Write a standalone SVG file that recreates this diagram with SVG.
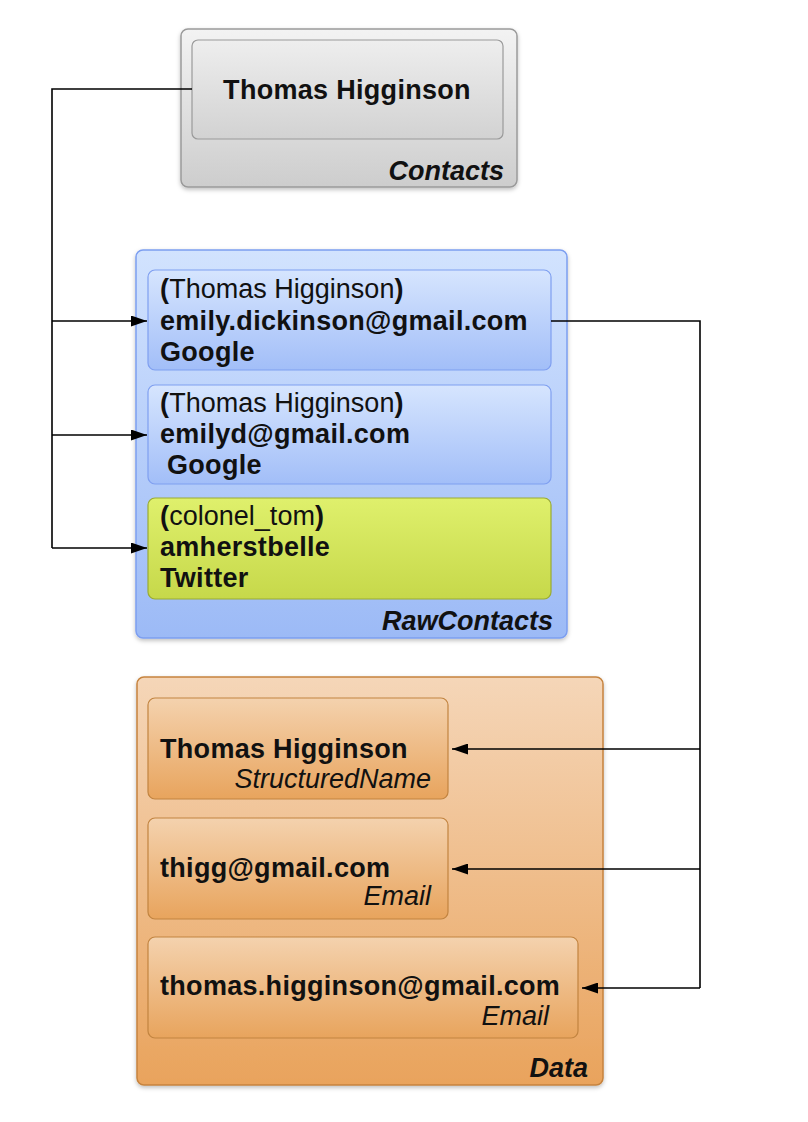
<svg xmlns="http://www.w3.org/2000/svg" width="808" height="1122" viewBox="0 0 808 1122">
<style>
text{font-family:"Liberation Sans",Arial,sans-serif;font-size:27px;fill:#111}
.b{font-weight:bold;letter-spacing:0.3px}
.bi{font-weight:bold;font-style:italic}
.i{font-style:italic}
.r{text-anchor:end}
.conn{fill:none;stroke:#000;stroke-width:1.6}
</style>
<defs>
<linearGradient id="gGrayO" x1="0" y1="0" x2="0" y2="1"><stop offset="0" stop-color="#f3f3f3"/><stop offset="1" stop-color="#cdcdcd"/></linearGradient>
<linearGradient id="gGrayI" x1="0" y1="0" x2="0" y2="1"><stop offset="0" stop-color="#eeeeee"/><stop offset="1" stop-color="#d2d2d2"/></linearGradient>
<linearGradient id="gBlueO" x1="0" y1="0" x2="0" y2="1"><stop offset="0" stop-color="#d2e3fe"/><stop offset="1" stop-color="#9cbaf6"/></linearGradient>
<linearGradient id="gBlueI" x1="0" y1="0" x2="0" y2="1"><stop offset="0" stop-color="#d6e5fe"/><stop offset="1" stop-color="#a2bef8"/></linearGradient>
<linearGradient id="gGreen" x1="0" y1="0" x2="0" y2="1"><stop offset="0" stop-color="#dff06c"/><stop offset="1" stop-color="#c6d84a"/></linearGradient>
<linearGradient id="gOrO" x1="0" y1="0" x2="0" y2="1"><stop offset="0" stop-color="#f5d6b8"/><stop offset="1" stop-color="#e9a35c"/></linearGradient>
<linearGradient id="gOrI" x1="0" y1="0" x2="0" y2="1"><stop offset="0" stop-color="#f4d2ae"/><stop offset="1" stop-color="#e8a45d"/></linearGradient>
<filter id="sh" x="-5%" y="-5%" width="110%" height="110%"><feDropShadow dx="0" dy="2" stdDeviation="2" flood-color="#000" flood-opacity="0.25"/></filter>
<marker id="ah" viewBox="0 0 16 11" refX="16" refY="5.5" markerWidth="16" markerHeight="11" markerUnits="userSpaceOnUse" orient="auto"><path d="M0,0 L16,5.5 L0,11 Z" fill="#000"/></marker>
</defs>

<g id="contacts">
<rect x="181" y="29" width="336" height="158" rx="7" fill="url(#gGrayO)" stroke="#9a9a9a" stroke-width="1.5" filter="url(#sh)"/>
<rect x="192" y="40" width="311" height="99" rx="6" fill="url(#gGrayI)" stroke="#9a9a9a" stroke-width="1.2"/>
<text x="347" y="99" class="b" text-anchor="middle">Thomas Higginson</text>
<text x="504" y="180" class="bi r">Contacts</text>
</g>

<g id="rawcontacts">
<rect x="136" y="250" width="431" height="388" rx="7" fill="url(#gBlueO)" stroke="#7c9ef0" stroke-width="1.5" filter="url(#sh)"/>
<text x="553" y="630" class="bi r">RawContacts</text>
</g>

<g id="raw1">
<rect x="148" y="270" width="403" height="100" rx="7" fill="url(#gBlueI)" stroke="#7f9ff0" stroke-width="1.2"/>
<text x="160" y="298"><tspan class="b">(</tspan>Thomas Higginson<tspan class="b">)</tspan></text>
<text x="160" y="330" class="b">emily.dickinson@gmail.com</text>
<text x="160" y="361" class="b">Google</text>
</g>

<g id="raw2">
<rect x="148" y="385" width="403" height="99" rx="7" fill="url(#gBlueI)" stroke="#7f9ff0" stroke-width="1.2"/>
<text x="160" y="412"><tspan class="b">(</tspan>Thomas Higginson<tspan class="b">)</tspan></text>
<text x="160" y="443" class="b">emilyd@gmail.com</text>
<text x="167" y="474" class="b">Google</text>
</g>

<g id="raw3">
<rect x="148" y="498" width="403" height="101" rx="7" fill="url(#gGreen)" stroke="#9aab32" stroke-width="1.2"/>
<text x="160" y="525"><tspan class="b">(</tspan>colonel_tom<tspan class="b">)</tspan></text>
<text x="160" y="556" class="b">amherstbelle</text>
<text x="160" y="587" class="b">Twitter</text>
</g>

<g id="data">
<rect x="137" y="677" width="466" height="408" rx="7" fill="url(#gOrO)" stroke="#c6833e" stroke-width="1.5" filter="url(#sh)"/>
<text x="588" y="1077" class="bi r">Data</text>
</g>

<g id="data1">
<rect x="148" y="698" width="300" height="101" rx="7" fill="url(#gOrI)" stroke="#c28440" stroke-width="1.2"/>
<text x="160" y="758" class="b">Thomas Higginson</text>
<text x="431" y="788" class="i r">StructuredName</text>
</g>

<g id="data2">
<rect x="148" y="818" width="300" height="101" rx="7" fill="url(#gOrI)" stroke="#c28440" stroke-width="1.2"/>
<text x="160" y="877" class="b">thigg@gmail.com</text>
<text x="431" y="905" class="i r">Email</text>
</g>

<g id="data3">
<rect x="148" y="937" width="430" height="101" rx="7" fill="url(#gOrI)" stroke="#c28440" stroke-width="1.2"/>
<text x="160" y="995" class="b">thomas.higginson@gmail.com</text>
<text x="549" y="1025" class="i r">Email</text>
</g>

<g id="connectors">
<path class="conn" d="M192,89 H52 V548"/>
<path class="conn" d="M52,321 H147" marker-end="url(#ah)"/>
<path class="conn" d="M52,435 H147" marker-end="url(#ah)"/>
<path class="conn" d="M52,548 H147" marker-end="url(#ah)"/>
<path class="conn" d="M551,321 H700 V988"/>
<path class="conn" d="M700,749 H452" marker-end="url(#ah)"/>
<path class="conn" d="M700,869 H452" marker-end="url(#ah)"/>
<path class="conn" d="M700,988 H582" marker-end="url(#ah)"/>
</g>
</svg>
